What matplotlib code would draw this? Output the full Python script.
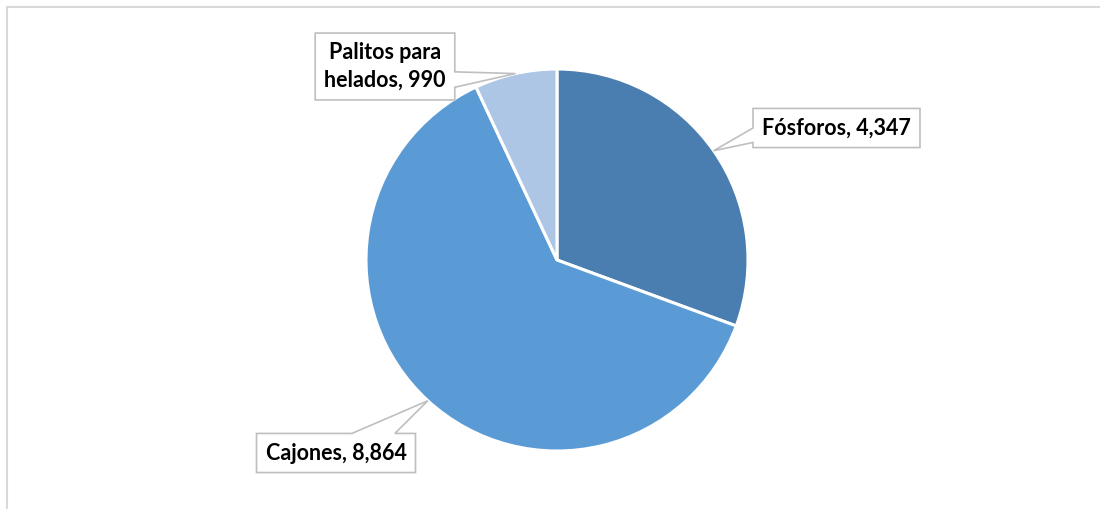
import numpy as np
import matplotlib.pyplot as plt
from matplotlib.lines import Line2D
from matplotlib.patches import Polygon

# data
categories = ['Fósforos', 'Cajones', 'Palitos para\nhelados']
values = [4347, 8864, 990]
colors = ['#4A7EB0', '#5B9BD5', '#ADC6E6']

W, H = 1100, 509
fig = plt.figure(figsize=(W / 100, H / 100), dpi=100)
ax = fig.add_axes([0, 0, 1, 1])
ax.set_aspect('equal')
ax.axis('off')

cx, cy, r = 557, H - 260, 191
wedges, _ = ax.pie(values, colors=colors, startangle=90, counterclock=False,
                   center=(cx, cy), radius=r,
                   wedgeprops=dict(edgecolor='white', linewidth=2.2))
ax.set_xlim(0, W)
ax.set_ylim(0, H)

# label layout: text centre, edge the pointer leaves from, pointer base (fractions of edge)
label_pos = [((836.5, H - 128), 'left', (0.13, 0.5)),
             ((336, H - 453), 'top', (0.6, 0.87)),
             ((385, H - 66.5), 'right', (0.19, 0.42))]

texts = []
for name, val, (xyt, edge, base) in zip(categories, values, label_pos):
    t = ax.text(xyt[0], xyt[1], f'{name}, {val:,}', ha='center', va='center',
                fontsize=15.5, fontweight='bold', family='Lato', color='black',
                linespacing=1.4, zorder=5,
                bbox=dict(boxstyle='square,pad=0.42', fc='none', ec='none'))
    texts.append(t)

fig.canvas.draw()
inv = ax.transData.inverted()

for w, t, (xyt, edge, (a, b)) in zip(wedges, texts, label_pos):
    mid = np.deg2rad((w.theta1 + w.theta2) / 2)
    tip = (cx + r * np.cos(mid), cy + r * np.sin(mid))
    ext = t.get_bbox_patch().get_window_extent()
    (x0, y0), (x1, y1) = inv.transform([[ext.x0, ext.y0], [ext.x1, ext.y1]])
    bw, bh = x1 - x0, y1 - y0
    if edge == 'left':
        pts = [(x0, y0), (x1, y0), (x1, y1), (x0, y1),
               (x0, y0 + b * bh), tip, (x0, y0 + a * bh)]
    elif edge == 'right':
        pts = [(x0, y0), (x1, y0), (x1, y0 + a * bh), tip,
               (x1, y0 + b * bh), (x1, y1), (x0, y1)]
    else:
        pts = [(x0, y0), (x1, y0), (x1, y1), (x0 + b * bw, y1), tip,
               (x0 + a * bw, y1), (x0, y1)]
    ax.add_patch(Polygon(pts, closed=True, fc='white', ec='#BFBFBF', lw=1.2,
                         joinstyle='miter', zorder=4))

# chart frame (only left and top visible)
fig.add_artist(Line2D([7 / W, 7 / W], [0, 1 - 7 / H], transform=fig.transFigure,
                      color='#D9D9D9', lw=1.5))
fig.add_artist(Line2D([7 / W, 1], [1 - 7 / H, 1 - 7 / H], transform=fig.transFigure,
                      color='#D9D9D9', lw=1.5))

fig.savefig('out.png', dpi=100, facecolor='white')
